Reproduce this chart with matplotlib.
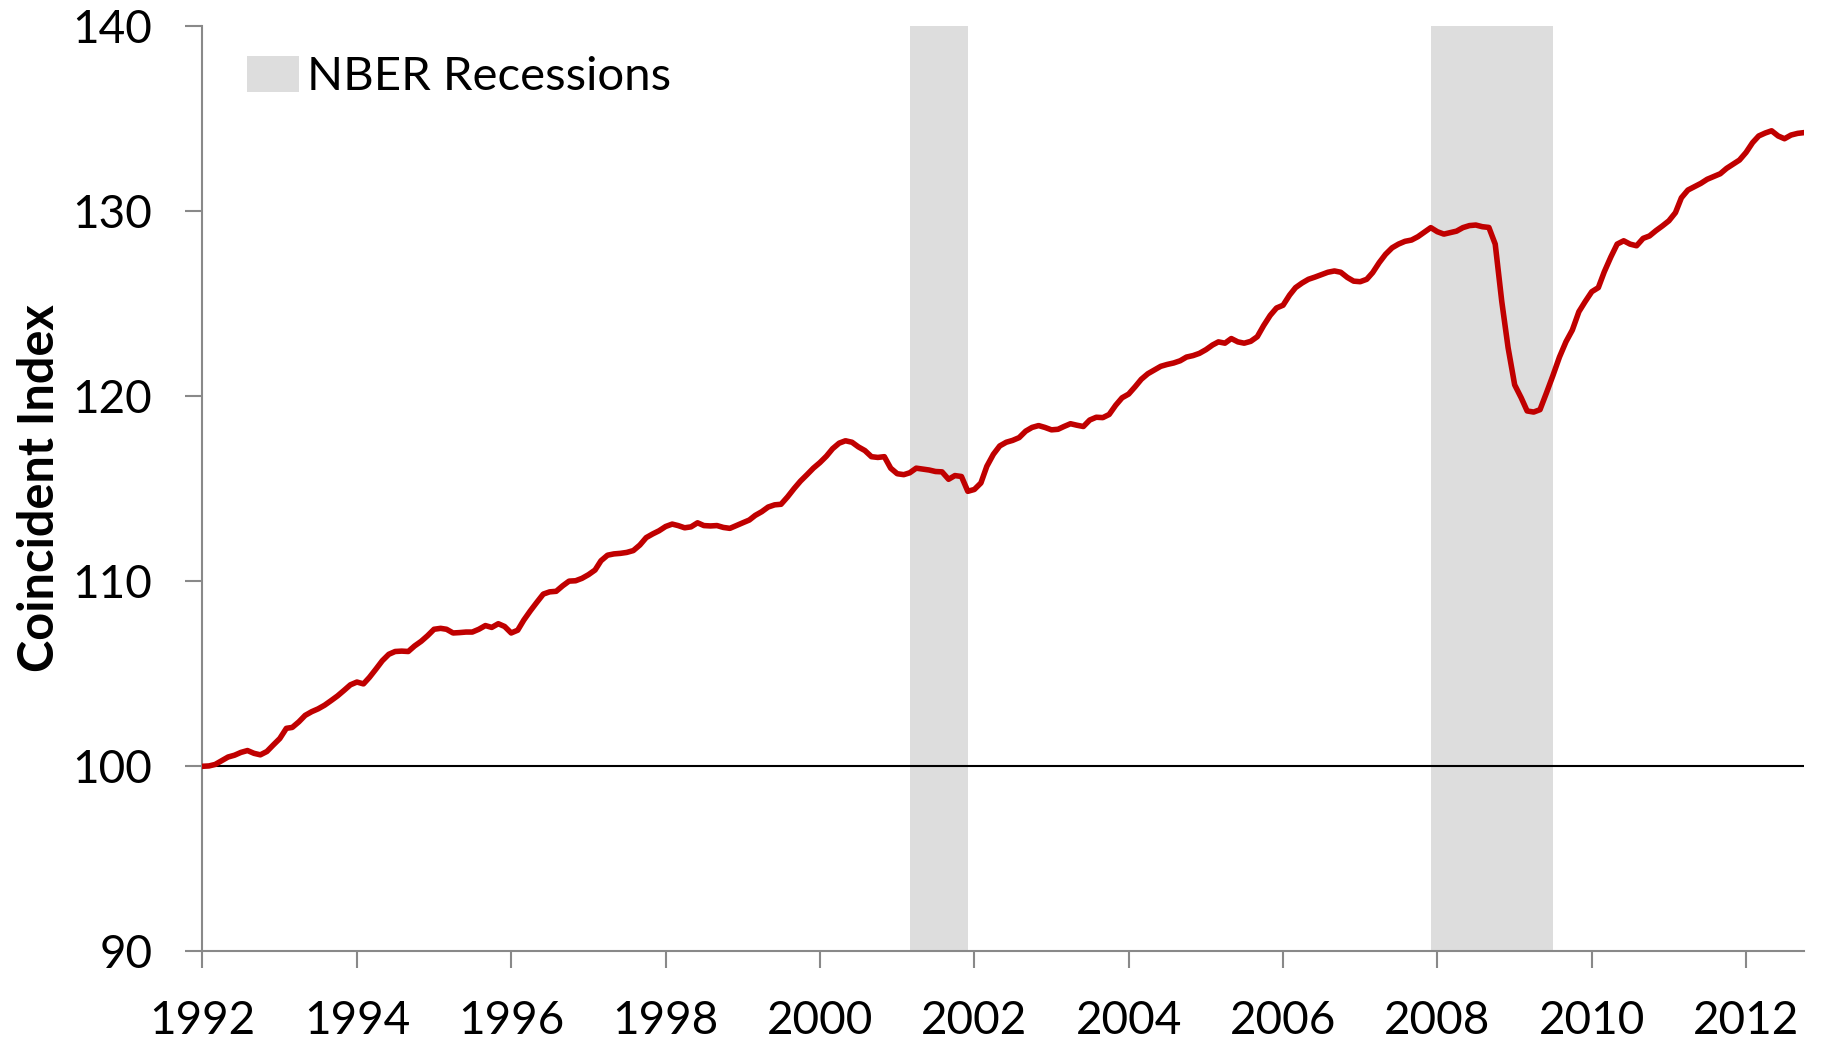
import pandas as pd
import numpy as np
import matplotlib
matplotlib.use("Agg")
import matplotlib.pyplot as plt
import matplotlib.dates as mdates
from matplotlib.patches import Patch

# monthly coincident index, Jan 1992 = 100
idx_1992 = [100.0, 100.02, 100.1, 100.3, 100.5, 100.6, 100.75, 100.85, 100.7, 100.62, 100.8, 101.15]
idx_1993 = [101.5, 102.05, 102.1, 102.4, 102.75, 102.95, 103.1, 103.3, 103.55, 103.8, 104.1, 104.4]
idx_1994 = [104.55, 104.45, 104.8, 105.25, 105.7, 106.05, 106.2, 106.22, 106.2, 106.5, 106.75, 107.05]
idx_1995 = [107.4, 107.45, 107.4, 107.2, 107.22, 107.25, 107.25, 107.4, 107.6, 107.5, 107.7, 107.55]
idx_1996 = [107.2, 107.35, 107.9, 108.4, 108.85, 109.3, 109.42, 109.45, 109.75, 110.0, 110.02, 110.15]
idx_1997 = [110.35, 110.6, 111.1, 111.4, 111.47, 111.5, 111.55, 111.65, 111.95, 112.35, 112.55, 112.72]
idx_1998 = [112.95, 113.08, 113.0, 112.88, 112.93, 113.15, 113.0, 112.98, 113.0, 112.9, 112.85, 113.0]
idx_1999 = [113.15, 113.3, 113.55, 113.75, 114.0, 114.12, 114.15, 114.55, 115.0, 115.4, 115.75, 116.1]
idx_2000 = [116.4, 116.75, 117.15, 117.45, 117.58, 117.5, 117.25, 117.05, 116.72, 116.68, 116.72, 116.1]
idx_2001 = [115.8, 115.75, 115.85, 116.1, 116.05, 116.0, 115.92, 115.9, 115.5, 115.7, 115.65, 114.85]
idx_2002 = [114.95, 115.3, 116.2, 116.85, 117.3, 117.5, 117.6, 117.75, 118.1, 118.3, 118.4, 118.3]
idx_2003 = [118.17, 118.2, 118.35, 118.5, 118.42, 118.35, 118.7, 118.85, 118.83, 119.0, 119.5, 119.9]
idx_2004 = [120.1, 120.5, 120.9, 121.2, 121.4, 121.6, 121.7, 121.78, 121.9, 122.1, 122.18, 122.3]
idx_2005 = [122.5, 122.75, 122.92, 122.85, 123.1, 122.92, 122.85, 122.95, 123.2, 123.8, 124.35, 124.75]
idx_2006 = [124.9, 125.45, 125.85, 126.1, 126.3, 126.42, 126.55, 126.68, 126.75, 126.68, 126.4, 126.2]
idx_2007 = [126.17, 126.3, 126.66, 127.2, 127.65, 128.0, 128.2, 128.35, 128.42, 128.6, 128.85, 129.09]
idx_2008 = [128.87, 128.74, 128.82, 128.9, 129.09, 129.2, 129.23, 129.14, 129.1, 128.2, 125.1, 122.6]
idx_2009 = [120.6, 119.9, 119.19, 119.13, 119.26, 120.18, 121.1, 122.1, 122.93, 123.56, 124.55, 125.1]
idx_2010 = [125.63, 125.85, 126.7, 127.5, 128.2, 128.38, 128.2, 128.11, 128.51, 128.64, 128.93, 129.18]
idx_2011 = [129.46, 129.9, 130.7, 131.12, 131.3, 131.48, 131.7, 131.85, 132.0, 132.29, 132.52, 132.74]
idx_2012 = [133.15, 133.68, 134.04, 134.2, 134.32, 134.04, 133.89, 134.09, 134.18, 134.22]

# NBER recession months (start, first month after end)
rec_starts = ["2001-03-01", "2007-12-01"]
rec_ends = ["2001-12-01", "2009-07-01"]

yticks = [90, 100, 110, 120, 130, 140]
xtick_years = list(range(1992, 2013, 2))

values = (idx_1992 + idx_1993 + idx_1994 + idx_1995 + idx_1996 + idx_1997 + idx_1998
          + idx_1999 + idx_2000 + idx_2001 + idx_2002 + idx_2003 + idx_2004 + idx_2005
          + idx_2006 + idx_2007 + idx_2008 + idx_2009 + idx_2010 + idx_2011 + idx_2012)
dates = pd.date_range("1992-01-01", periods=len(values), freq="MS")
df = pd.DataFrame({"date": dates, "index": values})

plt.rcParams["font.family"] = ["Lato", "DejaVu Sans"]

fig = plt.figure(figsize=(18.24, 10.45), dpi=100)
ax = fig.add_axes([0.111, 0.0895, 0.878, 0.886])

for s, e in zip(rec_starts, rec_ends):
    ax.axvspan(pd.Timestamp(s), pd.Timestamp(e), color="#dddddd", lw=0, zorder=0)

ax.axhline(100, color="black", lw=1.5, zorder=1)
ax.plot(df["date"], df["index"], color="#c00000", lw=4.0, zorder=3, solid_joinstyle="round")

ax.set_xlim(df["date"].iloc[0], df["date"].iloc[-1])
ax.set_ylim(90, 140)
ax.set_yticks(yticks)
ax.set_xticks([pd.Timestamp(f"{y}-01-01") for y in xtick_years])
ax.xaxis.set_major_formatter(mdates.DateFormatter("%Y"))

for side in ["top", "right"]:
    ax.spines[side].set_visible(False)
for side in ["left", "bottom"]:
    ax.spines[side].set_color("#898989")
    ax.spines[side].set_linewidth(1.5)

ax.tick_params(axis="both", direction="out", color="#898989", width=1.5, length=12, labelsize=33)
ax.tick_params(axis="x", pad=23)
ax.tick_params(axis="y", pad=24)

ax.set_ylabel("Coincident Index", fontsize=35, fontweight="bold")
ax.yaxis.set_label_coords(-0.088, 0.5)

ax.legend(handles=[Patch(facecolor="#dddddd", edgecolor="none", label="NBER Recessions")],
          loc="upper left", bbox_to_anchor=(0.016, 0.988), frameon=False, fontsize=34,
          handlelength=1.1, handleheight=0.8, handletextpad=0.17, borderaxespad=0)

fig.savefig("out.png", dpi=100)
